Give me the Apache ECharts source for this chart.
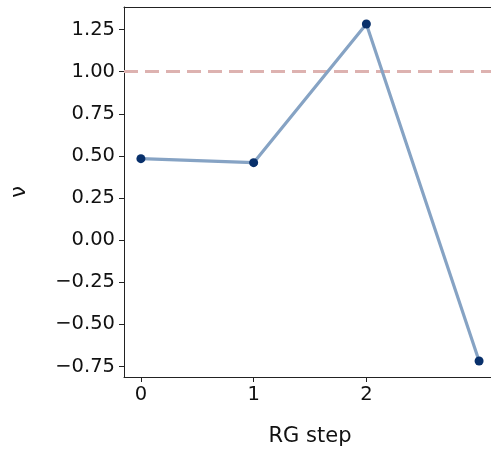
<!DOCTYPE html>
<html><head><meta charset="utf-8">
<script src="https://cdn.jsdelivr.net/npm/echarts@6/dist/echarts.min.js"></script>
<style>html,body{margin:0;padding:0;background:#fff}#c{width:491px;height:454px}</style>
</head><body><div id="c"></div>
<script>
const steps = [0, 1, 2, 3];
const nuValues = [0.484, 0.460, 1.283, -0.717];
const xTicks = [0, 1, 2];
const yTicks = [-0.75, -0.5, -0.25, 0, 0.25, 0.5, 0.75, 1.0, 1.25];
const refValue = 1.0;
const xLabel = 'RG step';
const yLabel = 'ν';

const fmt = v => (v < 0 ? '\u2212' : '') + Math.abs(v).toFixed(2);
const font = 'DejaVu Sans';
const chart = echarts.init(document.getElementById('c'));
chart.setOption({
  animation: false,
  grid: { left: 124, top: 7, width: 372, height: 370, outerBoundsMode: 'none' },
  xAxis: [{
    type: 'value', min: -0.15, max: 3.15,
    name: xLabel, nameLocation: 'middle', nameGap: 49,
    nameTextStyle: { fontFamily: font, fontSize: 21, color: '#111' },
    axisLine: { show: true, onZero: false, lineStyle: { color: '#222', width: 1 } },
    axisTick: { show: true, length: 5, customValues: xTicks, lineStyle: { color: '#222' } },
    axisLabel: { customValues: xTicks, fontFamily: font, fontSize: 19.5, color: '#111', margin: 8, formatter: v => String(v) },
    splitLine: { show: false }
  }, {
    type: 'value', position: 'top', min: -0.15, max: 3.15,
    axisLine: { show: true, onZero: false, lineStyle: { color: '#222', width: 1 } },
    axisTick: { show: false }, axisLabel: { show: false }, splitLine: { show: false }
  }],
  yAxis: {
    type: 'value', min: -0.812, max: 1.384,
    name: yLabel, nameLocation: 'middle', nameGap: 94, nameRotate: 90,
    nameTextStyle: { fontFamily: font, fontSize: 21, color: '#111' },
    axisLine: { show: true, onZero: false, lineStyle: { color: '#222', width: 1 } },
    axisTick: { show: true, length: 5, customValues: yTicks, lineStyle: { color: '#222' } },
    axisLabel: { customValues: yTicks, fontFamily: font, fontSize: 19.5, color: '#111', margin: 9, formatter: fmt },
    splitLine: { show: false }
  },
  series: [{
    type: 'line',
    data: steps.map((s, i) => [s, nuValues[i]]),
    symbol: 'circle', symbolSize: 9,
    lineStyle: { color: '#86a3c4', width: 3.2 },
    itemStyle: { color: '#08306b' },
    z: 3,
    markLine: {
      silent: true, symbol: 'none', label: { show: false },
      lineStyle: { color: '#ddb2b0', width: 3, type: [14, 7] },
      data: [{ yAxis: refValue }],
      z: 1
    }
  }]
});
</script></body></html>
